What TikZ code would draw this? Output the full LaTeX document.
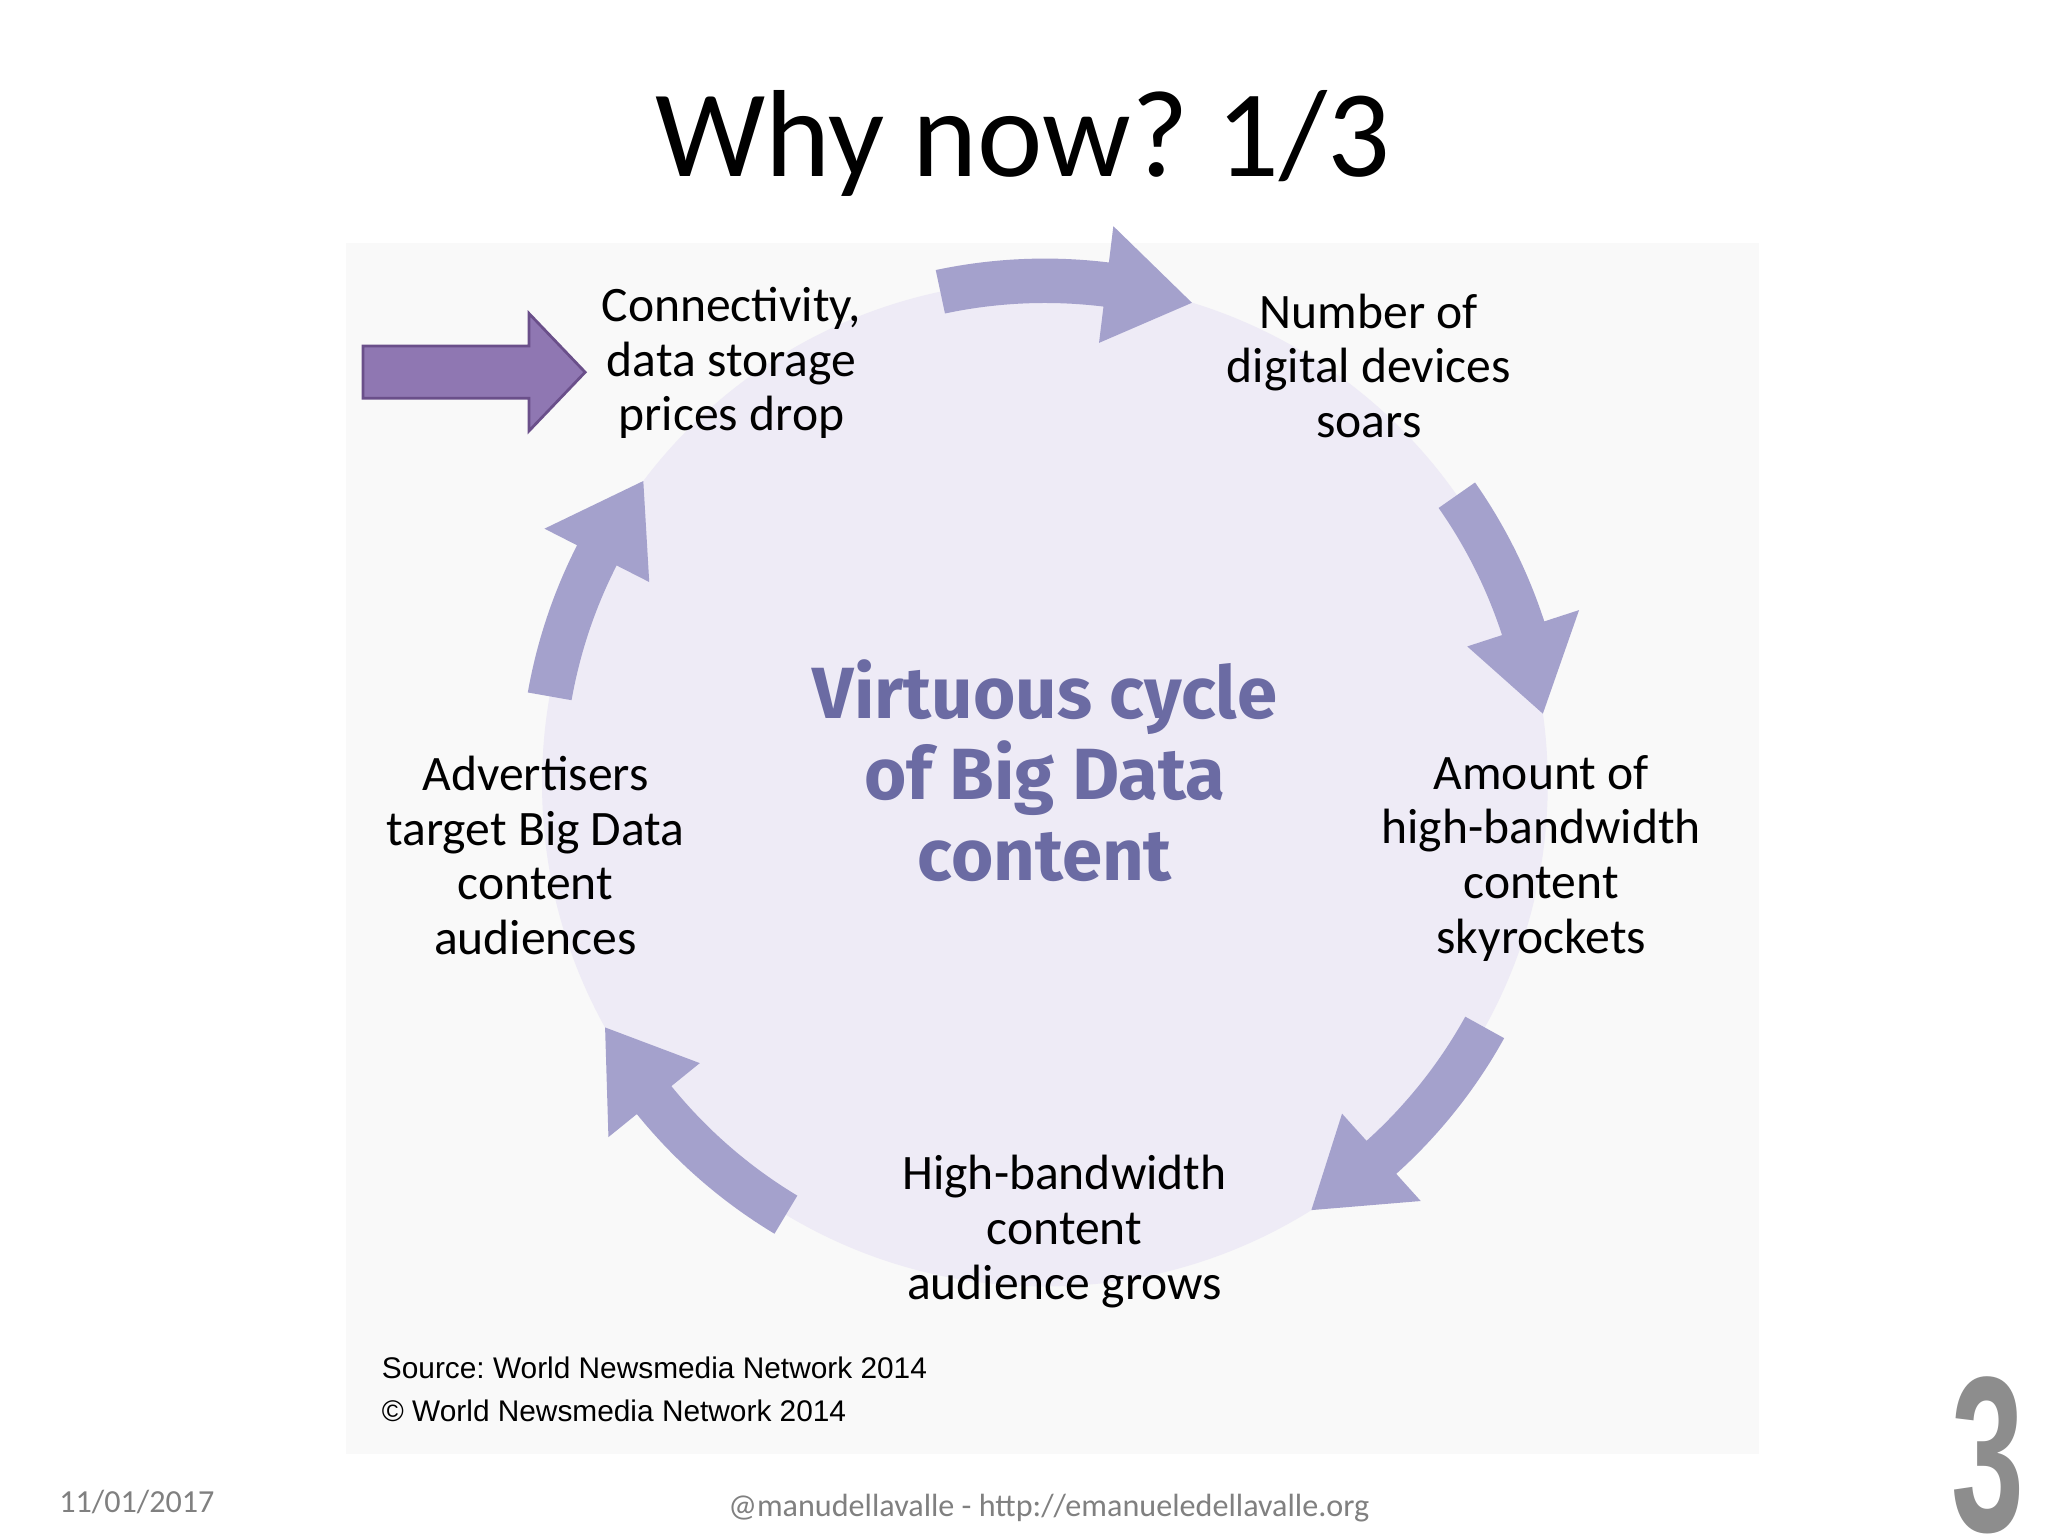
\documentclass[tikz,border=0pt]{standalone}
\usepackage{fontspec}
\setmainfont{Carlito}
\newfontfamily\arialf{Liberation Sans}
\newfontfamily\heavyf{Fira Sans}
\definecolor{bgimg}{HTML}{F9F9F9}
\definecolor{circ}{HTML}{EEEBF6}
\definecolor{arr}{HTML}{A4A1CC}
\definecolor{ctext}{HTML}{6B6BA3}
\definecolor{parr}{HTML}{8F77B2}
\definecolor{parrb}{HTML}{6A4F8A}
\definecolor{foot}{HTML}{808080}
\frenchspacing
\newcommand{\cyc}[2]{%
  \pgfmathsetmacro{\hh}{#2+10}%
  \fill[arr] ($(8,5.76)+(#1:3.68)$) arc[start angle=#1, end angle=\hh, radius=3.68]
    -- ($(8,5.76)+(\hh:3.40)$) -- ($(8,5.76)+(#2:3.85)$) -- ($(8,5.76)+(\hh:4.30)$)
    -- ($(8,5.76)+(\hh:4.02)$) arc[start angle=\hh, end angle=#1, radius=4.02] -- cycle;}
\usetikzlibrary{calc}
\tikzset{lbl/.style={align=center,font=\fontsize{10.8}{11.9}\selectfont,text=black}}
\begin{document}
\begin{tikzpicture}
\useasboundingbox (0,0) rectangle (15.68,11.76);
\fill[white] (0,0) rectangle (15.68,11.76);
\fill[bgimg] (2.65,0.63) rectangle (13.47,9.9);
\fill[circ] (8,5.76) circle (3.85);
\cyc{102}{73}
\cyc{35}{8}
\cyc{-29}{-58}
\cyc{-121}{-151}
\cyc{170}{143}
\node[font=\fontsize{27}{30}\selectfont] (title) at (7.83,10.66) {Why now? 1/3};
\node[lbl] (n1) at (5.6,8.98) {Connectivity,\\data storage\\prices drop};
\node[lbl] (n2) at (10.48,8.96) {Number of\\digital devices\\soars};
\node[lbl] (n3) at (11.8,5.19) {Amount of\\high-bandwidth\\content\\skyrockets};
\node[lbl] (n4) at (8.15,2.33) {High-bandwidth\\content\\audience grows};
\node[lbl] (n5) at (4.1,5.21) {Advertisers\\target Big Data\\content\\audiences};
\node[align=center,text=ctext,font=\heavyf\bfseries\fontsize{15.8}{17.6}\selectfont] (c) at (8,5.86) {Virtuous cycle\\of Big Data\\content};
\node[anchor=west,font=\arialf\fontsize{6.5}{7}\selectfont] (s1) at (2.8,1.29) {Source: World Newsmedia Network 2014};
\node[anchor=west,font=\arialf\fontsize{6.5}{7}\selectfont] (s2) at (2.8,0.96) {© World Newsmedia Network 2014};
\node[anchor=west,text=foot,font=\fontsize{7}{8}\selectfont] (d) at (0.33,0.26) {11/01/2017};
\node[text=foot,font=\fontsize{7}{8}\selectfont] (f) at (8.03,0.21) {@manudellavalle - http://emanueledellavalle.org};
\node[text=foot!90,font=\arialf\bfseries\fontsize{46}{46}\selectfont,xscale=0.62,yscale=1.05] (three) at (15.22,0.62) {3};
\draw[parrb,fill=parr,line width=0.6pt] (2.78,8.71) -- (4.05,8.71) -- (4.05,8.46) -- (4.48,8.91) -- (4.05,9.36) -- (4.05,9.11) -- (2.78,9.11) -- cycle;
\end{tikzpicture}
\end{document}
